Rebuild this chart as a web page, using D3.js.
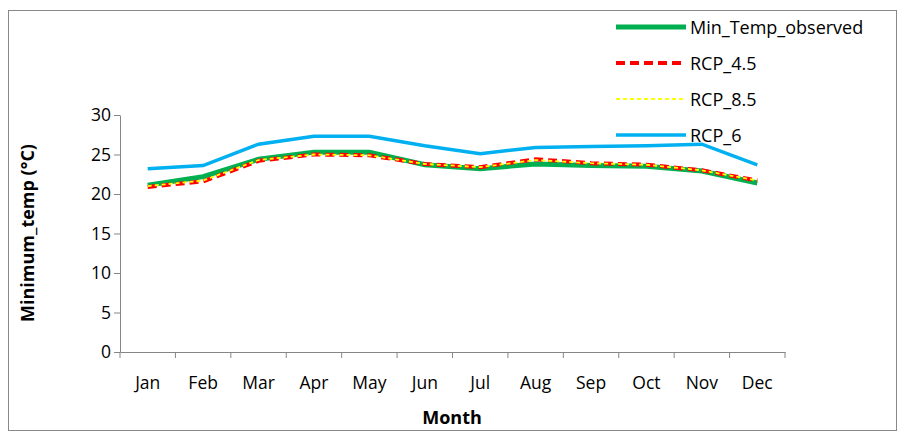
<!DOCTYPE html><html><head><meta charset="utf-8"><script src="https://cdn.jsdelivr.net/npm/d3@7"></script>
<style>body{margin:0;background:#fff}svg text{font-family:"Open Sans",sans-serif}</style></head><body><svg width="901" height="432"></svg><script>
const months=["Jan","Feb","Mar","Apr","May","Jun","Jul","Aug","Sep","Oct","Nov","Dec"];
const observed=[21.1,22.2,24.4,25.3,25.3,23.7,23.2,23.8,23.6,23.5,22.9,21.4];
const rcp45=[20.9,21.6,24.2,25.0,24.9,23.8,23.4,24.4,23.9,23.7,23.0,21.7];
const rcp85=[21.0,21.7,24.3,25.0,24.9,23.8,23.4,24.3,23.9,23.7,23.0,21.7];
const rcp6=[23.2,23.6,26.3,27.3,27.3,26.1,25.1,25.9,26.0,26.1,26.3,23.7];
const yTicks=[0,5,10,15,20,25,30];
const svg=d3.select("svg");
svg.append("rect").attr("x",8.5).attr("y",10.5).attr("width",888).attr("height",420).attr("fill","#fff").attr("stroke","#888");
const x=d3.scaleBand().domain(months).range([120,785]);
const y=d3.scaleLinear().domain([0,30]).range([352,115]);
const ax=svg.append("g").attr("transform","translate(0,352)").call(d3.axisBottom(x).tickSize(6).tickSizeOuter(0));
const ay=svg.append("g").attr("transform","translate(120,0)").call(d3.axisLeft(y).tickValues(yTicks).tickSize(6).tickSizeOuter(0));
[ax,ay].forEach(a=>{a.attr("font-family",null).attr("font-size",null);a.selectAll("path,line").attr("stroke","#868686");a.selectAll("text").style("font-size","17.5px").attr("fill","#000");});
ax.selectAll("text").attr("dy","1.6em");
ax.selectAll(".tick line").remove();
months.concat([null]).forEach((m,i)=>{const px=120+i*x.step();svg.append("line").attr("x1",px).attr("x2",px).attr("y1",352).attr("y2",358).attr("stroke","#868686");});
const line=d3.line().x((d,i)=>x(months[i])+x.bandwidth()/2).y(d=>y(d));
const series=[
 {n:"Min_Temp_observed",d:observed,c:"#00b050",w:5,da:null},
 {n:"RCP_4.5",d:rcp45,c:"#ff0000",w:4,da:"9,5"},
 {n:"RCP_8.5",d:rcp85,c:"#ffff00",w:1.8,da:"4,3"},
 {n:"RCP_6",d:rcp6,c:"#00b0f0",w:3.5,da:null}];
series.forEach(s=>svg.append("path").datum(s.d).attr("d",line).attr("fill","none").attr("stroke",s.c).attr("stroke-width",s.w).attr("stroke-dasharray",s.da));
series.forEach((s,i)=>{const ly=27+i*36;
 svg.append("line").attr("x1",616).attr("x2",686).attr("y1",ly).attr("y2",ly).attr("stroke",s.c).attr("stroke-width",s.w).attr("stroke-dasharray",s.da);
 svg.append("text").attr("x",690).attr("y",ly+7).style("font-size","18px").text(s.n);});
svg.append("text").attr("x",452).attr("y",424).attr("text-anchor","middle").style("font-size","18px").attr("font-weight","bold").text("Month");
svg.append("text").attr("transform","translate(34,233) rotate(-90)").attr("text-anchor","middle").style("font-size","18px").attr("font-weight","bold").text("Minimum_temp (°C)");
</script></body></html>
